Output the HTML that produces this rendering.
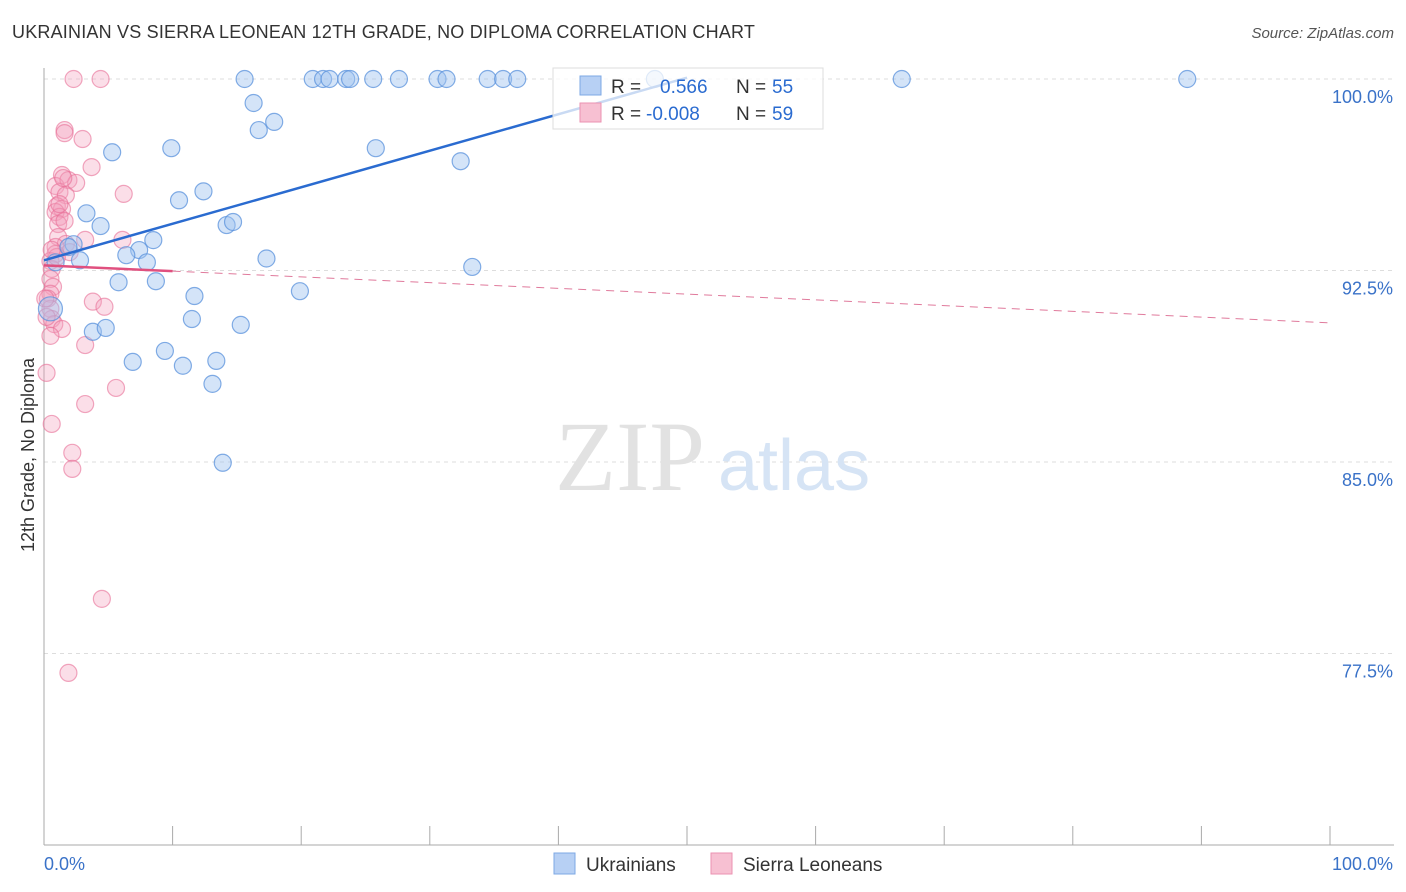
<!DOCTYPE html>
<html><head><meta charset="utf-8">
<style>
body{margin:0;background:#fff;font-family:"Liberation Sans",sans-serif;}
#c{position:relative;width:1406px;height:892px;overflow:hidden}
.t{position:absolute;white-space:nowrap}
</style></head><body>
<div id="c">
<div class="t" style="left:12px;top:22px;font-size:18px;color:#333;letter-spacing:0.2px">UKRAINIAN VS SIERRA LEONEAN 12TH GRADE, NO DIPLOMA CORRELATION CHART</div>
<div class="t" style="right:12px;top:25px;font-size:15px;color:#555;font-style:italic">Source: ZipAtlas.com</div>
<svg id="s" width="1406" height="892" style="position:absolute;left:0;top:0"></svg>
</div>
<script>
const yTicks=[100,92.5,85,77.5];
const yTickLabels=["100.0%","92.5%","85.0%","77.5%"];
const xTickLabels=["0.0%","100.0%"];
const blueX=[15.6,20.9,21.7,22.2,23.5,23.8,25.6,27.6,30.6,31.3,34.5,35.7,36.8,47.5,66.7,88.9,16.3,16.7,17.9,5.3,9.9,25.8,32.4,10.5,12.4,3.3,4.4,14.2,14.7,8.5,2.3,7.4,6.4,8.0,17.3,0.9,2.8,33.3,1.9,5.8,8.7,19.9,11.7,11.5,15.3,3.8,4.8,9.4,6.9,10.8,13.4,13.1,13.9,0.5];
const blueY=[100,100,100,100,100,100,100,100,100,100,100,100,100,100,100,100,99.06,98.0,98.32,97.13,97.29,97.29,96.78,95.25,95.6,94.74,94.24,94.28,94.4,93.69,93.53,93.3,93.1,92.82,92.97,92.82,92.9,92.64,93.42,92.04,92.08,91.69,91.5,90.6,90.37,90.1,90.25,89.35,88.92,88.77,88.96,88.06,84.97,91.0];
const pinkX=[2.3,4.4,1.6,1.6,3.0,3.7,6.2,1.4,0.9,1.9,2.5,1.2,1.7,1.0,1.4,0.9,1.2,1.1,1.6,1.1,1.7,0.9,2.0,0.9,0.5,0.6,3.2,6.1,0.5,0.7,0.5,0.3,3.8,4.7,0.5,0.6,0.8,1.4,0.5,3.2,0.2,5.6,3.2,0.6,2.2,2.2,4.5,1.9,1.0,0.1,0.2,1.2,0.6,1.5];
const pinkY=[100,100,98.0,97.88,97.65,96.55,95.5,96.24,95.81,96.04,95.93,95.57,95.45,95.02,94.91,94.79,94.6,94.32,94.44,93.81,93.54,93.42,93.22,93.15,92.87,92.56,93.7,93.7,92.17,91.86,91.59,91.4,91.28,91.08,91.0,90.6,90.4,90.21,89.94,89.58,88.49,87.9,87.27,86.49,85.36,84.73,79.64,76.74,93.03,91.4,90.68,95.1,93.31,96.12];
const blueLine=[92.9,100.05]; // value at x=0 and x=50
const pinkLine=[92.7,90.45]; // value at x=0 and x=100
const L=44,R=1330,T=79,B=845;
const xs=v=>L+v*(R-L)/100;
const ys=v=>T+(100-v)*(462-79)/15;
const s=document.getElementById('s');const NS='http://www.w3.org/2000/svg';
function mk(tag,a,name){const e=document.createElementNS(NS,tag);for(const k in a)e.setAttribute(k,a[k]);


s.appendChild(e);return e;}
yTicks.forEach((v,i)=>{mk('line',{x1:L,x2:1394,y1:ys(v),y2:ys(v),stroke:'#ddd','stroke-dasharray':'4,4'},'gridline');
const t=mk('text',{x:1393,y:ys(v)+24,'text-anchor':'end','font-size':18,fill:'#3a72c8','font-family':'Liberation Sans'},'y-tick-label');t.textContent=yTickLabels[i];});
mk('line',{x1:L,x2:L,y1:68,y2:B,stroke:'#aaa'},'y-axis');
mk('line',{x1:L,x2:1394,y1:B,y2:B,stroke:'#aaa'},'x-axis');
for(let i=0;i<=10;i++)mk('line',{x1:xs(i*10),x2:xs(i*10),y1:826,y2:B,stroke:'#aaa'},'x-tick');
let t=mk('text',{x:44,y:870,'font-size':18,fill:'#3a72c8','font-family':'Liberation Sans'},'x-tick-label');t.textContent=xTickLabels[0];
t=mk('text',{x:1393,y:870,'text-anchor':'end','font-size':18,fill:'#3a72c8','font-family':'Liberation Sans'},'x-tick-label');t.textContent=xTickLabels[1];
t=mk('text',{x:0,y:0,transform:'translate(34,455) rotate(-90)','text-anchor':'middle','font-size':18,fill:'#333','font-family':'Liberation Sans'},'y-axis-title');t.textContent='12th Grade, No Diploma';
t=mk('text',{x:555,y:490,'font-size':100,fill:'#e2e2e2','font-family':'Liberation Serif'},'watermark-zip');t.textContent='ZIP';
t=mk('text',{x:718,y:490,'font-size':72,fill:'#d6e4f5','font-family':'Liberation Sans'},'watermark-atlas');t.textContent='atlas';
pinkX.forEach((x,i)=>mk('circle',{cx:xs(x),cy:ys(pinkY[i]),r:8.5,fill:'rgba(244,160,190,0.35)',stroke:'rgba(232,110,150,0.6)','stroke-width':1.2},'pink-point'));
blueX.forEach((x,i)=>mk('circle',{cx:xs(x),cy:ys(blueY[i]),r:i==53?12:8.5,fill:'rgba(160,195,240,0.45)',stroke:'rgba(90,145,220,0.75)','stroke-width':1.2},'blue-point'));
mk('line',{x1:xs(0),y1:ys(blueLine[0]),x2:xs(50),y2:ys(blueLine[1]),stroke:'#2a6bd0','stroke-width':2.5},'blue-trend-line');
const pv=x=>pinkLine[0]+(pinkLine[1]-pinkLine[0])*x/100;
mk('line',{x1:xs(0),y1:ys(pv(0)),x2:xs(10),y2:ys(pv(10)),stroke:'#e0507f','stroke-width':2.5},'pink-trend-line');
mk('line',{x1:xs(10),y1:ys(pv(10)),x2:xs(100),y2:ys(pv(100)),stroke:'#e07a9c','stroke-width':1,'stroke-dasharray':'8,6'},'pink-trend-dashed');
mk('rect',{x:553,y:68,width:270,height:61,fill:'rgba(255,255,255,0.75)',stroke:'#ddd'},'legend-box');
mk('rect',{x:580,y:76,width:21,height:19,fill:'#b7d0f4',stroke:'#7ea8e4'},'legend-swatch-blue');
mk('rect',{x:580,y:103,width:21,height:19,fill:'#f7c0d2',stroke:'#eb92b1'},'legend-swatch-pink');
function lt(x,y,str,c,n){const e=mk('text',{x:x,y:y,'font-size':19,fill:c,'font-family':'Liberation Sans'},n);e.textContent=str;}
lt(611,93,'R =','#333','legend-r-label');lt(660,93,'0.566','#2a6bd0','legend-r-blue');lt(736,93,'N =','#333','legend-n-label');lt(772,93,'55','#2a6bd0','legend-n-blue');
lt(611,120,'R =','#333','legend-r-label');lt(646,120,'-0.008','#2a6bd0','legend-r-pink');lt(736,120,'N =','#333','legend-n-label');lt(772,120,'59','#2a6bd0','legend-n-pink');
mk('rect',{x:554,y:853,width:21,height:21,fill:'#b7d0f4',stroke:'#7ea8e4'},'bottom-legend-swatch-blue');
lt(586,871,'Ukrainians','#333','bottom-legend-ukrainians');
mk('rect',{x:711,y:853,width:21,height:21,fill:'#f7c0d2',stroke:'#eb92b1'},'bottom-legend-swatch-pink');
lt(743,871,'Sierra Leoneans','#333','bottom-legend-sierra-leoneans');
</script>
</body></html>
